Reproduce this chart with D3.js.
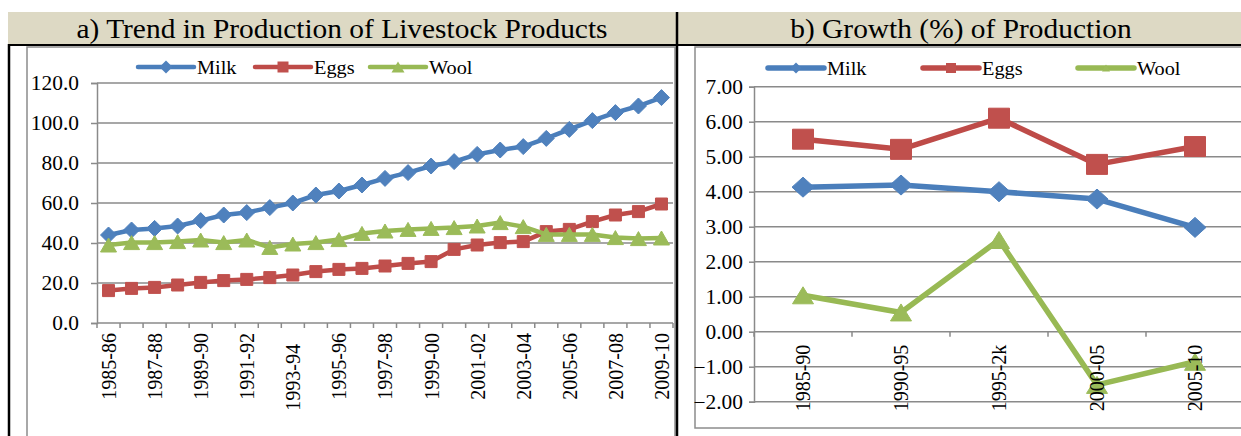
<!DOCTYPE html>
<html>
<head>
<meta charset="utf-8">
<script src="https://cdn.jsdelivr.net/npm/d3@7"></script>
<style>
  html, body { margin: 0; padding: 0; background: #fff; }
  svg { display: block; }
  svg text { font-family: "Liberation Serif", "DejaVu Serif", "Noto Serif", serif !important; fill: #000; }
</style>
</head>
<body>
<svg id="chart" width="1241" height="436"></svg>
<script>
// ---- data: panel a) production trend ----
const years = ["1985-86","1986-87","1987-88","1988-89","1989-90","1990-91","1991-92","1992-93",
  "1993-94","1994-95","1995-96","1996-97","1997-98","1998-99","1999-00","2000-01","2001-02",
  "2002-03","2003-04","2004-05","2005-06","2006-07","2007-08","2008-09","2009-10"];
const milkTrend = [44.0,46.5,47.3,48.5,51.2,54.0,55.2,57.7,60.0,64.0,66.0,69.0,72.3,75.2,78.5,
  80.7,84.3,86.5,88.2,92.3,96.8,101.2,105.2,108.5,112.7];
const eggsTrend = [16.2,17.3,17.8,19.0,20.3,21.2,21.8,22.7,24.0,25.7,26.8,27.3,28.5,29.8,30.7,
  36.8,39.0,40.2,40.7,45.7,46.8,50.7,54.0,55.7,59.5];
const woolTrend = [39.0,40.2,40.2,40.7,41.5,40.2,41.5,37.8,39.5,40.2,41.7,44.8,46.0,46.8,47.3,
  47.7,48.5,50.2,48.2,44.3,44.3,44.3,42.7,42.2,42.5];
const trendTicks = [0,20,40,60,80,100,120];

// ---- data: panel b) growth of production (%) ----
const periods = ["1985-90","1990-95","1995-2k","2000-05","2005-10"];
const milkGrowth = [4.13,4.19,4.00,3.79,2.98];
const eggsGrowth = [5.50,5.21,6.10,4.78,5.29];
const woolGrowth = [1.04,0.55,2.62,-1.52,-0.86];
const growthTicks = [-2,-1,0,1,2,3,4,5,6,7];

const seriesNames = ["Milk","Eggs","Wool"];
const panelTitles = ["a) Trend in Production of Livestock Products","b) Growth (%) of Production"];

// ---- styling ----
const FONT = '"Liberation Serif", "DejaVu Serif", "Noto Serif", serif';
const lineColors = ["#4A7EBB","#BE4B48","#98B954"];
const markColors = ["#4F81BD","#C0504D","#9BBB59"];
const shapes = ["diamond","square","triangle"];
const GRID = "#8a8a8a";
const SX = 1.07;                     // slight horizontal stretch of the lettering
const svg = d3.select("#chart").attr("font-family", FONT);

function stretchText(sel) {
  sel.each(function () {
    const t = d3.select(this);
    const x = +t.attr("x") || 0, y = +t.attr("y") || 0;
    t.attr("transform", `translate(${x},${y}) scale(${SX},1) translate(${-x},${-y})`);
  });
}

function markerPath(shape, w, h) {
  const a = w / 2, b = h / 2;
  if (shape === "diamond") return `M0,${-b}L${a},0L0,${b}L${-a},0Z`;
  if (shape === "square") return `M${-a},${-b}H${a}V${b}H${-a}Z`;
  return `M0,${-b}L${a},${b}L${-a},${b}Z`;
}

// ---- frame: title band and rules ----
svg.append("rect").attr("x", 8).attr("y", 12).attr("width", 1233).attr("height", 33).attr("fill", "#DDD9C4");
svg.append("text").attr("x", 342).attr("y", 38.5).attr("text-anchor", "middle")
  .style("font-size", "27.5px").style("font-family", FONT).text(panelTitles[0]).call(stretchText);
svg.append("text").attr("x", 961).attr("y", 38.5).attr("text-anchor", "middle")
  .style("font-size", "27.5px").style("font-family", FONT).text(panelTitles[1]).call(stretchText);

// chart area borders
svg.append("rect").attr("x", 27).attr("y", 47).attr("width", 648).attr("height", 500)
  .attr("fill", "none").attr("stroke", "#8c8c8c").attr("stroke-width", 1.5);
svg.append("rect").attr("x", 695).attr("y", 47).attr("width", 600).attr("height", 381)
  .attr("fill", "none").attr("stroke", "#8c8c8c").attr("stroke-width", 1.5);

svg.append("line").attr("x1", 8).attr("x2", 1241).attr("y1", 45).attr("y2", 45)
  .attr("stroke", "#000").attr("stroke-width", 2);
svg.append("line").attr("x1", 9).attr("x2", 9).attr("y1", 44).attr("y2", 436)
  .attr("stroke", "#000").attr("stroke-width", 2.5);
svg.append("line").attr("x1", 677).attr("x2", 677).attr("y1", 12).attr("y2", 436)
  .attr("stroke", "#000").attr("stroke-width", 2.5);

// ---- generic line panel ----
function drawPanel(cfg) {
  const g = svg.append("g");
  const x = d3.scaleBand().domain(cfg.cats).range(cfg.xRange);
  const y = d3.scaleLinear().domain(cfg.yDomain).range(cfg.yRange);
  const cx = d => x(d) + x.bandwidth() / 2;
  const [x0, x1] = cfg.xRange;

  // horizontal gridlines
  g.append("g").selectAll("line").data(cfg.ticks.filter(v => v !== cfg.baseValue)).join("line")
    .attr("x1", x0).attr("x2", x1).attr("y1", d => y(d)).attr("y2", d => y(d))
    .attr("stroke", GRID).attr("stroke-width", 1.5);

  // value axis
  const yAxis = g.append("g").attr("transform", `translate(${x0},0)`)
    .call(d3.axisLeft(y).tickValues(cfg.ticks).tickFormat(d3.format(cfg.fmt))
      .tickSize(cfg.tickLen).tickPadding(cfg.pad));
  yAxis.attr("font-family", FONT).attr("font-size", 20);
  yAxis.select(".domain").attr("stroke", GRID).attr("stroke-width", 1.5);
  yAxis.selectAll(".tick line").attr("stroke", GRID).attr("stroke-width", 1.5);
  yAxis.selectAll(".tick text")
    .style("font-size", "20px").style("font-family", FONT).attr("fill", "#000")
    .attr("x", -(cfg.tickLen + cfg.pad) / SX)
    .attr("transform", `scale(${SX},1)`);

  // category axis line with ticks between categories
  const by = y(cfg.baseValue);
  g.append("line").attr("x1", x0).attr("x2", x1).attr("y1", by).attr("y2", by)
    .attr("stroke", GRID).attr("stroke-width", 1.5);
  const bounds = cfg.cats.map(d => x(d)).concat([x1]);
  g.append("g").selectAll("line").data(bounds).join("line")
    .attr("x1", d => d).attr("x2", d => d).attr("y1", by).attr("y2", by + 5)
    .attr("stroke", GRID).attr("stroke-width", 1.5);

  // series
  cfg.series.forEach((vals, i) => {
    const pts = cfg.cats.map((c, k) => [cx(c), y(vals[k])]);
    g.append("path").attr("d", d3.line()(pts)).attr("fill", "none")
      .attr("stroke", lineColors[i]).attr("stroke-width", cfg.lw)
      .attr("stroke-linejoin", "round").attr("stroke-linecap", "round");
    const ms = cfg.marks[i];
    g.append("g").selectAll("path").data(pts).join("path")
      .attr("transform", p => `translate(${p[0]},${p[1]})`)
      .attr("d", markerPath(shapes[i], ms[0], ms[1]))
      .attr("fill", markColors[i]).attr("stroke", markColors[i]).attr("stroke-width", 1);
  });

  // category labels, rotated
  g.append("g").selectAll("text").data(cfg.cats.filter((d, k) => k % cfg.every === 0)).join("text")
    .attr("transform", d => `translate(${cx(d)},${by + cfg.labelGap + (cfg.nudge[d] || 0)}) scale(${SX},1) rotate(-90)`)
    .attr("text-anchor", "end").attr("dy", "0.35em")
    .style("font-size", "20px").style("font-family", FONT).text(d => d);

  // legend
  const lg = g.append("g");
  seriesNames.forEach((name, i) => {
    const lx = cfg.legendX[i], ly = cfg.legendY;
    lg.append("line").attr("x1", lx).attr("x2", lx + cfg.legendLen).attr("y1", ly).attr("y2", ly)
      .attr("stroke", lineColors[i]).attr("stroke-width", cfg.lw).attr("stroke-linecap", "round");
    const ms = cfg.legendMarks[i];
    lg.append("path").attr("transform", `translate(${lx + cfg.legendLen / 2},${ly})`)
      .attr("d", markerPath(shapes[i], ms[0], ms[1])).attr("fill", markColors[i]);
    lg.append("text").attr("x", lx + cfg.legendLen + 3).attr("y", ly).attr("dy", "0.35em")
      .style("font-size", "19px").style("font-family", FONT).text(name).call(stretchText);
  });
}

drawPanel({
  cats: years, series: [milkTrend, eggsTrend, woolTrend],
  xRange: [97, 673], yDomain: [0, 120], yRange: [323, 83],
  ticks: trendTicks, fmt: ".1f", baseValue: 0, tickLen: 6, pad: 12,
  lw: 4.5, marks: [[16, 16], [12, 12], [16, 14]],
  every: 2, labelGap: 10, nudge: { "1993-94": 11 },
  legendX: [138, 255, 370], legendY: 67, legendLen: 56,
  legendMarks: [[13, 13], [11, 11], [13, 11]]
});

drawPanel({
  cats: periods, series: [milkGrowth, eggsGrowth, woolGrowth],
  xRange: [754, 1244], yDomain: [-2, 7], yRange: [401.7, 86.7],
  ticks: growthTicks, fmt: ".2f", baseValue: 0, tickLen: 5, pad: 6,
  lw: 5.5, marks: [[22, 20], [21, 20], [21, 17]],
  every: 1, labelGap: 13, nudge: {},
  legendX: [768, 923, 1078], legendY: 68, legendLen: 56,
  legendMarks: [[11, 11], [10, 10], [8, 7]]
});
</script>
</body>
</html>
